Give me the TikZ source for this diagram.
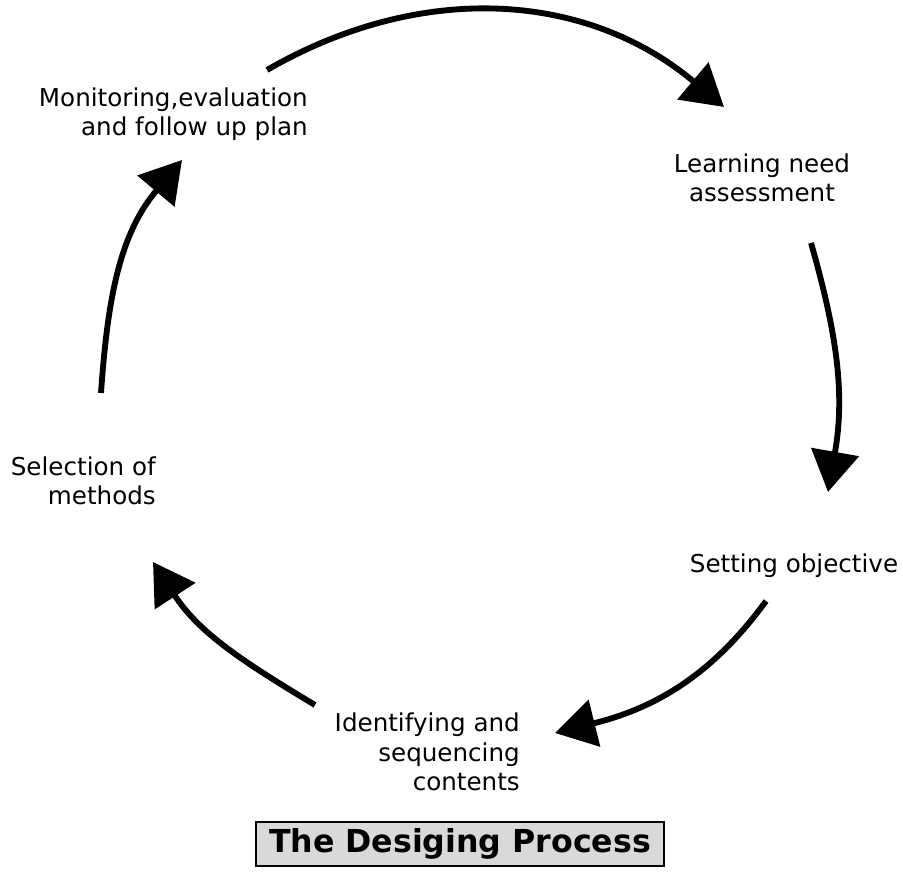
\documentclass[tikz,border=0pt]{standalone}
\usepackage{fontspec}
\setmainfont{DejaVu Sans}
\usetikzlibrary{arrows.meta}

\begin{document}
\begin{tikzpicture}[x=0.03cm,y=0.03cm,
        cyc/.style={line width=5pt,-{Triangle[length=1.22cm,width=1.42cm]}},
        lbl/.style={font=\fontsize{21}{25}\selectfont,inner sep=0pt}]
    \useasboundingbox (0,0) rectangle (903,873);
    % ends of the five arcs of the cycle
    \coordinate (s1) at (267,803); \coordinate (e1) at (724,766);
    \coordinate (s2) at (811,630); \coordinate (e2) at (828,381);
    \coordinate (s3) at (766,272); \coordinate (e3) at (555,140);
    \coordinate (s4) at (315,168); \coordinate (e4) at (153,311);
    \coordinate (s5) at (101,480); \coordinate (e5) at (182,713);
    \foreach \n/\o/\i in {1/30/140,2/-74/80,3/-126/14,4/149/-57,5/86/230}
        \draw[cyc] (s\n) to[out=\o,in=\i] (e\n);
    % stages
    \node[lbl,anchor=east,align=right] (monitor) at (308,759) {Monitoring,evaluation\\and follow up plan};
    \node[lbl,align=center] (need) at (762,695) {Learning need\\assessment};
    \node[lbl] (objective) at (794,307) {Setting objective};
    \node[lbl,anchor=east,align=right] (contents) at (520,121) {Identifying and\\sequencing\\contents};
    \node[lbl,anchor=east,align=right] (methods) at (156,392) {Selection of\\methods};
    % caption
    \node[draw,line width=1.5pt,fill=black!15,inner sep=0pt,
          minimum width=12.24cm,minimum height=1.32cm,
          font=\bfseries\fontsize{27}{30}\selectfont] (title) at (460,29) {The Desiging Process};
\end{tikzpicture}
\end{document}
